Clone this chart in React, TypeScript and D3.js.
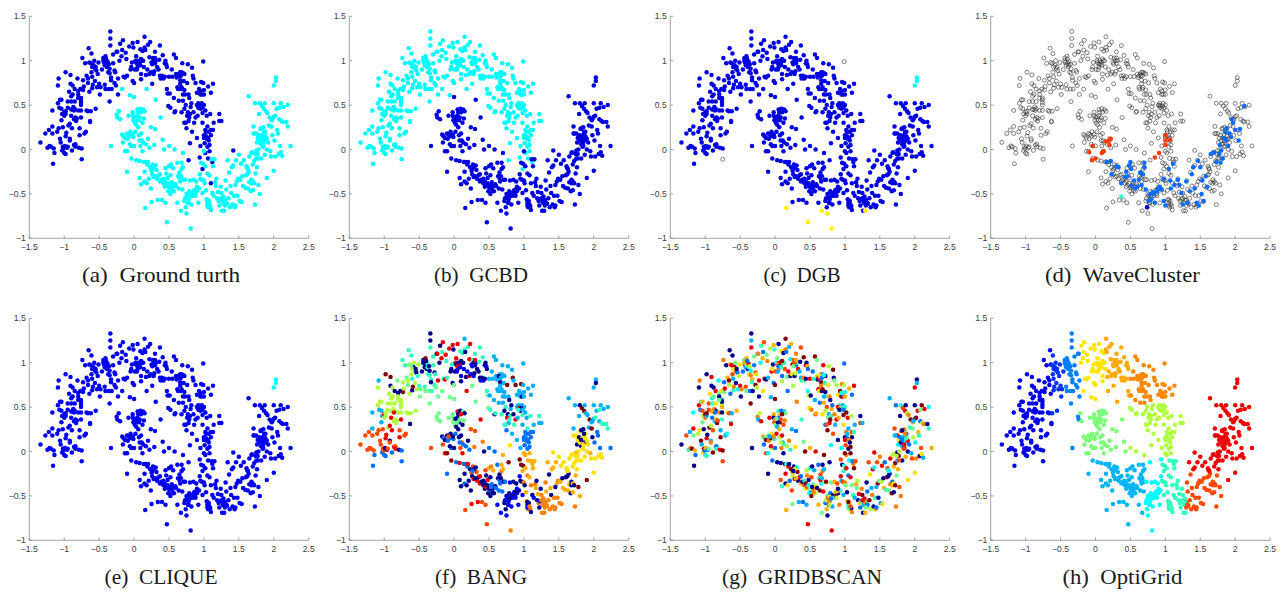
import React from "react";
import * as d3 from "d3";

type P = [number, number];

const upperMoon: P[] = [
[-1.34,0.08],[-1.27,0.18],[-1.22,0.22],[-1.24,0.02],[-1.21,0.04],[-1.19,0.03],[-1.17,0.18],[-1.17,0.26],[-1.16,-0.16],[-1.15,0.01],[-1.14,-0.04],[-1.17,0.44],[-1.1,0.2],[-1.08,0.24],[-1.09,0.52],[-1.09,0.72],[-1.08,0.8],[-1.07,0.47],[-1.06,0.56],[-1.06,0.12],[-1.05,0.08],[-1.04,0.46],[-1.04,0.56],[-1.04,0.33],[-1.03,0.4],[-1.02,0.25],[-1.02,0.03],[-1.03,-0.01],[-1.01,0.01],[-1,-0.04],[-1,0.38],[-1,0.42],[-0.98,0.87],[-0.98,0.4],[-0.98,0.15],[-0.99,0.04],[-0.98,-0.05],[-0.97,0.19],[-0.96,0.02],
[-0.95,0.03],[-0.95,0.54],[-0.94,0.27],[-0.93,0.65],[-0.92,0.29],[-0.92,0.12],[-0.92,0.1],[-0.91,0.84],[-0.91,0.74],[-0.9,0.6],[-0.9,0.54],[-0.9,0.45],[-0.9,0.38],[-0.89,0.24],[-0.89,-0.01],[-0.88,0.72],[-0.88,0.62],[-0.87,0.48],[-0.86,0.34],[-0.86,0.05],[-0.85,0.68],[-0.85,0.54],[-0.85,0.46],[-0.84,0.36],[-0.84,0.06],[-0.84,0.03],[-0.83,0.32],[-0.82,0.35],[-0.81,0.8],[-0.8,0.66],[-0.8,0.62],[-0.8,0.44],[-0.79,0.02],[-0.78,0.24],[-0.78,0.16],[-0.77,0.68],[-0.76,0.58],[-0.76,0.53],[-0.76,0.5],[-0.76,0.44],[-0.76,0.36],[-0.75,-0.11],[-0.75,0.01],[-0.74,1.03],[-0.73,0.78],[-0.73,0.67],[-0.72,0.71],[-0.71,0.18],[-0.7,0.97],[-0.69,0.2],[-0.68,0.83],[-0.68,0.44],[-0.66,0.8],[-0.66,0.75],[-0.66,0.43],[-0.65,1.14],[-0.64,0.65],[-0.64,0.98],
[-0.63,0.32],[-0.63,0.31],[-0.62,0.43],[-0.61,1.08],[-0.61,0.87],[-0.6,0.82],[-0.6,0.69],[-0.59,0.73],[-0.58,0.95],[-0.57,1],[-0.56,0.91],[-0.56,0.77],[-0.55,0.46],[-0.54,0.89],[-0.53,0.7],[-0.52,0.85],[-0.51,0.98],[-0.5,0.74],[-0.49,0.62],[-0.48,0.7],[-0.46,0.9],[-0.44,1.03],[-0.43,0.98],[-0.42,0.95],[-0.42,0.73],[-0.41,1.05],[-0.41,0.68],[-0.4,0.97],[-0.39,0.93],[-0.38,0.99],[-0.37,0.87],[-0.36,0.68],[-0.35,0.91],[-0.35,0.86],[-0.35,0.54],[-0.34,1.33],[-0.34,1.25],[-0.34,1.17],[-0.33,0.81],[-0.33,0.78],[-0.32,0.68],[-0.3,0.97],[-0.3,1.07],[-0.28,0.89],[-0.28,0.75],[-0.27,0.87],[-0.26,0.72],[-0.25,1.1],[-0.24,1.1],[-0.23,0.8],[-0.23,0.62],[-0.21,1],[-0.2,1.19],
[-0.18,1.05],[-0.17,1.12],[-0.16,1.23],[-0.15,0.82],[-0.13,0.81],[-0.12,1.09],[-0.11,1.02],[-0.1,0.83],[-0.07,1.16],[-0.05,0.9],[-0.04,0.93],[-0.03,0.98],[-0.02,1.2],[-0.02,0.77],[-0.01,1.15],[0,0.75],[0.01,0.9],[0.02,1],[0.03,1.05],[0.05,1.21],[0.05,0.93],[0.06,1],[0.07,0.96],[0.08,0.98],[0.09,1.13],[0.1,0.85],[0.1,0.79],[0.11,1],[0.12,1.11],[0.13,1],[0.14,0.93],[0.15,1.27],[0.15,1.15],[0.16,1.12],[0.17,0.84],[0.19,0.9],[0.2,1.18],[0.22,0.85],[0.22,1.04],[0.23,1.21],[0.24,0.87],[0.25,0.98],[0.26,0.74],[0.27,1.03],[0.28,0.85],[0.3,0.97],[0.3,1.1],[0.31,1],[0.33,0.93],[0.35,0.9],
[0.36,1.01],[0.37,1.17],[0.37,0.83],[0.38,0.8],[0.4,0.83],[0.41,1.06],[0.42,0.8],[0.44,0.97],[0.45,1],[0.46,0.96],[0.47,0.93],[0.47,0.68],[0.48,0.63],[0.49,0.49],[0.5,0.82],[0.51,0.63],[0.52,0.47],[0.54,0.9],[0.55,0.82],[0.57,1.07],[0.57,0.58],[0.58,0.42],[0.59,0.43],[0.6,1.03],[0.6,0.85],[0.61,0.81],[0.62,0.7],[0.63,0.68],[0.64,0.55],[0.65,0.83],[0.66,0.87],[0.66,0.78],[0.67,0.68],[0.68,0.87],[0.69,0.97],[0.7,0.55],
[0.71,0.77],[0.72,0.85],[0.72,0.3],[0.73,0.62],[0.74,0.5],[0.75,0.24],[0.76,0.75],[0.77,0.96],[0.77,0.42],[0.78,0.62],[0.78,0.32],[0.79,0.58],[0.8,0.07],[0.8,0.4],[0.81,0.48],[0.82,0.52],[0.83,0.2],[0.83,0.92],[0.84,0.83],[0.85,0.8],[0.85,0.42],[0.86,0.3],[0.88,0.75],[0.88,0.36],[0.9,0.64],[0.9,0.13],[0.91,0.38],[0.91,0.5],[0.92,0.52],[0.93,0.68],[0.94,-0.09],[0.95,0.04],[0.95,0.46],[0.95,0.62],[0.96,0.76],[0.97,0.62],[0.97,0.52],[0.98,0.41],[0.98,0.3],[0.99,0.99],[0.99,0.75],[1,0.62],[1,0.16],[1,0.5],[1.01,0.07],[1.02,0.44],[1.02,0.22],[1.03,0.15],[1.04,0.12],[1.04,0.38],[1.05,0.26],[1.05,0.03],[1.06,-0.1],[1.06,0.71],[1.07,0.2],[1.08,0.05],[1.09,0.4],[1.1,0.22],[1.1,0.16],[1.1,0.64],[1.12,-0.14],[1.13,0.22],[1.13,0.74],[1.14,0.3],[1.22,0.4],[1.22,0.32],[1.25,0.32],[0.98,-0.22],[1.02,-0.04],[1.08,-0.02],[1.1,-0.38],[1.42,-0.01],[0.78,-0.12],
[-0.44,1],[-0.4,1.02],[-0.38,0.95],[-0.36,0.96],[-0.6,0.93],[-0.62,0.97],[-0.55,0.93],[0.03,0.98],[0.05,0.96],[0.09,0.95],[0.1,1.02],[0.04,0.9],[0.28,1],[0.3,1.03],[0.26,0.96],[0.29,0.88],[0.44,0.82],[0.62,0.83],[0.64,0.85],[0.67,0.83],[0.7,0.86],[0.66,0.74],[0.68,0.7],[0.72,0.67],[0.7,0.62],[0.9,0.5],[0.93,0.49],[0.96,0.49],[0.92,0.47],[0.98,0.47],[0.76,0.38],[0.74,0.3],[0.79,0.36],[0.68,0.42],[0.72,0.46],[1.03,0.2],[1.06,0.13],[1,0.13],[1.07,0.1],[0.95,0.66],[1,0.67],[-0.88,0.45],[-0.86,0.44],[-0.95,0.47],[-0.98,0.43],[-0.76,0.56],[-0.8,0.58],
];

const lowerMoon: P[] = [
[-0.25,0.39],[-0.24,0.36],[-0.22,0.43],[-0.2,0.34],[-0.17,0.68],[-0.33,0.04],[-0.17,0.17],[-0.16,0.08],[-0.15,0.15],[-0.13,0.13],[-0.13,-0.02],[-0.1,-0.02],[-0.1,0.18],[-0.1,-0.25],[-0.09,0.12],[-0.08,0.38],[-0.06,0.61],[-0.06,0.15],[-0.05,0.2],[-0.04,-0.1],[-0.04,0.04],[-0.02,0.42],[-0.02,0.38],[-0.01,0.14],[-0.01,0.33],[0,0.59],[0,0.36],[0,0.04],[0.01,0.3],[0.02,0.2],[0.03,0.28],[0.03,-0.12],[0.05,0.45],[0.06,0.25],[0.06,0.42],[0.07,0.33],[0.07,0.16],[0.08,-0.32],[0.08,-0.13],[0.09,0.46],[0.09,0.04],[0.1,-0.39],[0.1,0.18],[0.11,0.1],[0.12,-0.02],[0.12,0.3],[0.13,0.45],[0.13,0.08],[0.14,0.35],[0.14,-0.14],[0.15,0.43],[0.15,-0.25],[0.15,-0.36],[0.16,-0.66],[0.18,0.68],
[0.16,-0.14],[0.17,0.06],[0.18,-0.38],[0.19,-0.17],[0.2,-0.14],[0.2,0.12],[0.21,-0.33],[0.22,0.02],[0.23,-0.2],[0.24,0.25],[0.24,-0.44],[0.25,-0.24],[0.25,-0.59],[0.26,-0.28],[0.27,-0.17],[0.28,-0.31],[0.29,0.05],[0.3,0.23],[0.31,-0.18],[0.31,0.56],[0.32,-0.23],[0.33,-0.33],[0.34,-0.57],[0.35,-0.29],[0.37,-0.36],[0.38,0.36],[0.39,-0.34],[0.4,-0.57],[0.41,0.11],[0.42,-0.38],[0.43,0],[0.44,-0.42],[0.45,-0.21],[0.45,-0.6],[0.46,-0.27],[0.47,-0.82],[0.48,-0.32],[0.49,-0.47],[0.5,-0.19],[0.5,0.04],[0.51,-0.43],[0.52,-0.29],[0.52,-0.5],[0.53,-0.17],[0.54,-0.37],[0.55,-0.42],[0.56,-0.21],[0.57,-0.47],[0.58,0],[0.59,-0.39],[0.6,-0.41],[0.62,-0.6],[0.62,-0.15],[0.63,-0.3],[0.64,-0.44],[0.65,-0.26],[0.66,-0.36],[0.67,-0.69],[0.68,-0.15],[0.68,-0.22],[0.69,-0.45],[0.7,-0.2],[0.7,-0.04],[0.71,-0.34],[0.72,-0.58],[0.73,-0.55],[0.74,-0.65],[0.75,-0.72],[0.75,-0.5],[0.76,-0.52],[0.77,-0.6],[0.78,-0.56],[0.79,-0.47],[0.8,-0.35],[0.81,-0.89],[0.82,-0.62],[0.83,-0.49],[0.84,-0.52],[0.85,-0.34],[0.86,-0.46],[0.87,-0.5],[0.88,-0.52],[0.89,-0.36],[0.9,-0.47],[0.91,-0.44],[0.92,-0.6],[0.93,-0.44],[0.94,-0.28],[0.95,-0.33],[0.96,-0.15],[0.97,-0.34],[0.98,-0.49],[0.99,-0.16],[1,-0.35],[1,-0.02],[1.01,-0.38],[1.02,-0.19],[1.03,-0.46],[1.04,-0.56],[1.05,-0.27],[1.05,-0.6],[1.06,-0.65],[1.07,-0.58],[1.08,-0.29],[1.09,-0.64],[1.1,-0.68],[1.11,-0.11],[1.12,-0.49],[1.13,-0.19],[1.14,-0.52],[1.15,-0.11],[1.16,-0.37],[1.17,-0.41],[1.18,-0.33],[1.19,-0.55],[1.2,-0.48],[1.21,-0.58],[1.22,-0.63],[1.23,-0.56],[1.24,-0.42],[1.25,-0.49],[1.26,-0.69],[1.27,-0.6],[1.28,-0.53],[1.29,-0.69],[1.3,-0.57],[1.31,-0.35],[1.32,-0.45],[1.33,-0.61],[1.34,-0.12],[1.35,-0.55],[1.36,-0.26],[1.37,-0.65],[1.38,-0.41],[1.39,-0.49],[1.4,-0.2],[1.41,-0.62],[1.42,-0.18],[1.43,-0.52],[1.44,-0.65],[1.45,-0.63],[1.46,-0.12],[1.47,-0.36],[1.48,-0.52],[1.49,-0.33],[1.5,-0.06],[1.51,-0.58],[1.52,-0.34],[1.53,-0.16],[1.54,-0.59],[1.55,-0.3],[1.56,-0.41],[1.57,-0.12],[1.59,-0.43],[1.6,-0.29],[1.61,-0.19],[1.62,-0.21],[1.63,-0.44],[1.64,-0.25],[1.65,-0.37],[1.65,-0.08],[1.64,0.6],[1.67,-0.47],[1.68,-0.04],[1.68,-0.34],[1.69,-0.03],[1.7,-0.17],[1.7,-0.46],[1.71,0.18],[1.71,0.26],[1.72,-0.13],[1.73,-0.62],[1.73,0.52],[1.74,-0.27],[1.75,0.18],[1.75,-0.1],[1.75,-0.01],[1.76,0.08],
[1.76,-0.2],[1.77,0.13],[1.77,-0.05],[1.78,0],[1.78,-0.4],[1.79,0.4],[1.79,0.16],[1.8,-0.5],[1.8,0.52],[1.81,0.23],[1.82,0.06],[1.82,-0.1],[1.83,0.49],[1.84,0.16],[1.84,0.1],[1.85,0.25],[1.85,0.04],[1.86,0.12],[1.86,0.46],[1.87,0.52],[1.87,-0.06],[1.88,0.2],[1.88,0.11],[1.89,0.43],[1.9,-0.32],[1.9,0.12],[1.9,0],[1.91,0.41],[1.92,0.08],[1.93,0.27],[1.94,0.36],[1.95,-0.02],[1.96,-0.08],[1.97,0.33],[1.97,0.26],[1.98,0.16],[2,0.52],[2,0.72],[2,-0.24],[2,0.37],[2.01,0.1],[2.02,-0.08],[2.02,0.38],[2.03,0.81],[2.03,0.77],[2.04,0.46],[2.05,0.22],[2.06,0.18],[2.07,-0.05],[2.08,0.34],[2.08,0.47],[2.09,0.04],[2.1,0.52],[2.1,-0.03],[2.11,0.32],[2.12,-0.07],[2.13,0.31],[2.14,0.48],[2.18,0.31],[2.2,0.5],[2.2,0.26],[2.24,0.04],
[0.05,0.38],[0.08,0.36],[0.1,0.42],[0.04,0.33],[0.02,0.37],[-0.02,0.17],[-0.08,0.17],[0.08,0.1],[-0.06,0.06],[0.28,-0.2],[0.26,-0.22],[0.3,-0.3],[0.37,-0.28],[0.42,-0.33],[0.44,-0.36],[0.46,-0.4],[0.48,-0.38],[0.5,-0.42],[0.53,-0.4],[0.55,-0.46],[0.65,-0.32],[0.67,-0.3],[0.73,-0.34],[0.78,-0.51],[0.8,-0.53],[0.78,-0.6],[0.88,-0.45],[0.9,-0.42],[1.05,-0.63],[1.08,-0.62],[1.05,-0.57],[1.28,-0.57],[1.32,-0.6],[1.3,-0.63],[1.25,-0.55],[1.45,-0.4],[1.62,-0.28],[1.63,-0.22],[1.68,-0.38],[1.7,-0.36],[1.72,-0.38],[1.74,-0.05],[1.77,-0.1],[1.8,0.1],[1.82,0.13],[1.86,0.2],[1.88,0.15],[1.85,0.08],[1.72,0.18],[1.82,0.24],[1.84,0.03],[1.98,0.34],
];

const xTicks = [-1.5, -1, -0.5, 0, 0.5, 1, 1.5, 2, 2.5];
const yTicks = [-1, -0.5, 0, 0.5, 1, 1.5];
const captions = ["(a)\u2002Ground turth", "(b)\u2002GCBD", "(c)\u2002DGB", "(d)\u2002WaveCluster", "(e)\u2002CLIQUE", "(f)\u2002BANG", "(g)\u2002GRIDBSCAN", "(h)\u2002OptiGrid"];
const captionWidths = [158, 94, 77, 155, 113, 92, 160, 120];

const dgbYellow: P[] = [[0.16,-0.66],[0.47,-0.82],[0.67,-0.69],[0.75,-0.72],[0.81,-0.89],[1.29,-0.69]];
const smallCyan: P[] = [[2,0.72],[2.03,0.77],[2.03,0.81]];
const dgbHollow: P[] = [[0.99,0.99],[-0.75,-0.11]];
const gcbdCyanExtra: P[] = [[-0.17,0.68],[0.18,0.68],[-0.06,0.61]];
const gcbdDarkExtra: P[] = [[1.1,-0.38],[1.42,-0.01]];

const waveBlue: P[] = [[0.16,-0.14],[0.22,-0.13],[0.23,-0.28],[0.3,-0.19],[0.33,-0.2],[0.37,-0.38],[0.42,-0.31],[0.44,-0.25],[0.46,-0.3],[0.48,-0.18],[0.5,-0.14],[0.51,-0.22],[0.52,-0.41],[0.55,-0.35],[0.57,-0.44],[0.6,-0.42],[0.62,-0.34],[0.64,-0.26],[0.66,-0.4],[0.68,-0.28],[0.7,-0.15],[0.7,-0.2],[0.72,-0.45],[0.76,-0.58],[0.78,-0.5],[0.8,-0.56],[0.82,-0.48],[0.84,-0.5],[0.85,-0.6],[0.88,-0.47],[0.9,-0.44],[0.92,-0.42],[0.95,-0.45],[0.98,-0.33],[0.98,-0.58],[1,-0.63],[1.05,-0.22],[1.07,-0.35],[1.08,-0.44],[1.11,-0.16],[1.13,-0.4],[1.18,-0.34],[1.2,-0.4],[1.23,-0.49],[1.25,-0.62],[1.3,-0.36],[1.32,-0.6],[1.35,-0.47],[1.38,-0.28],[1.4,-0.2],[1.42,-0.44],[1.45,-0.6],[1.47,-0.13],[1.48,-0.63],[1.5,-0.2],[1.52,-0.5],[1.53,-0.35],[1.55,-0.58],[1.58,-0.3],[1.6,-0.42],[1.65,-0.05],[1.7,-0.03],[1.73,-0.14],[1.77,-0.05],[1.78,0.05],[1.79,-0.15],[1.8,-0.01],[1.82,-0.1],[1.84,0.13],[1.86,0.2],[1.87,0.1],[1.88,0.24],[1.9,0.04],[1.92,0.18],[1.94,0.14],[1.95,0.34],[1.97,0.3],[2,0.22],[2.05,0.1],[2.07,0.23],[2.13,0.49]];
const waveRed: P[] = [[-0.09,-0.03],[-0.04,0.04],[-0.05,-0.12],[0,-0.1],[0.09,-0.04],[0.11,-0.02],[0.15,0.09],[0.2,0.05],[0.2,0.1],[0.22,0.12],[1,0.16],[1,0.1],[1,0.05],[1.07,0.11],[0.91,-0.04],[0.85,-0.09]];
const waveTeal: P[] = [[0.37,-0.53]];
const waveNavy: P[] = [[0.74,-0.65]];

const jet: Record<string, string> = { n: "#00008f", b: "#0000ff", B: "#0070ff", s: "#00b0ff", c: "#00ffff", t: "#30ffc0", g: "#70ff8f", l: "#b0ff40", y: "#ffe000", a: "#ffb000", o: "#ff8000", r: "#ff4a00", R: "#e80000", d: "#800000" };

// BANG labels per block of 0.25 x 0.25, top row first, x from -1.5 upward
const bangBlocks = [
"s s s s n s s s s s s s s s s s",
"s s s dtn nRdnt RtRRn RRtn ttRd ss Rss s s s s s s",
"s s dg nltlg nntt ntRn bnRbn nnb sssn ssds ss s s s nss s",
"s l lln llgnd gttg gRg Rg gt ss ssdn ss s s nss ss s",
"s s lllR lln gl g nngRg gRg tn ntsR ts s s sd st s",
"r r rRn rB r rBn rBn ro Bs sBy B a y nyyn BB B",
"B B BBdB B B Rd BRn nBr aaoB aad aa ay y yya y y",
"B B B B B B Bn Rnn nB bn oan oan an Bd a a",
"r r r r r r r rR bn bn nbo o o a a a",
"r r r r r r r r r o o o o o o o",
].map((row) => row.split(" "));

const gridBscanLabels = "nrstodgRnaBclyRnoBtdsraglnRyBcodnsRatnBgrdylsoRnctaBrdngoslRynaBtdrcgnoRsdyBlantrdoBgRsncaydlrnBotRs";

// OptiGrid rectangles: xmin, xmax, ymin, ymax, colour; the first that holds the point wins
const optiRegions: [number, number, number, number, string][] = [
  [-2, -0.62, -2, 2, "#0000e6"],
  [-0.62, -0.45, -2, 2, "#0030ff"],
  [-0.45, -0.22, -2, 2, "#0080ff"],
  [1.3, 1.9, -2, -0.22, "#ff4a00"],
  [1.3, 3, -2, 3, "#f00000"],
  [-0.22, 0.15, 0.55, 2, "#ffe600"],
  [0.15, 0.5, 0.55, 2, "#ffaa00"],
  [0.5, 1.3, 0.55, 2, "#ff8800"],
  [-0.22, 0.45, -0.05, 0.55, "#7dff7a"],
  [0.45, 1.3, -0.05, 0.55, "#b0ff40"],
  [-0.22, 0.72, -2, -0.05, "#00b4ff"],
  [0.72, 0.95, -2, -0.05, "#00ffff"],
  [0.95, 1.3, -2, -0.05, "#30ffc0"],
];

const panelX = [29.3, 349.3, 670.3, 990.7];
const panelW = 279.4;
const panelYTop = [16.3, 318.3];
const panelH = 222;
const captionBaseline = [281.5, 583.5];

const key = (p: P) => p[0] + "," + p[1];
const keySet = (a: P[]) => new Set(a.map(key));
const yellowSet = keySet(dgbYellow), cyanSet = keySet(smallCyan), hollowSet = keySet(dgbHollow);
const gcCyan = keySet(gcbdCyanExtra), gcDark = keySet(gcbdDarkExtra);
const upperSet = keySet(upperMoon);
const allPoints: P[] = [...upperMoon, ...lowerMoon];

const DARK = "#0000dc";
const CY = "#00ffff";

function colourFor(panel: number, p: P, i: number): string | null {
  const k = key(p);
  switch (panel) {
    case 0: return upperSet.has(k) ? DARK : CY;
    case 1:
      if (gcCyan.has(k)) return CY;
      if (gcDark.has(k)) return DARK;
      return upperSet.has(k) ? CY : DARK;
    case 2:
      if (yellowSet.has(k)) return "#ffee00";
      if (cyanSet.has(k)) return CY;
      if (hollowSet.has(k)) return null;
      return "#0000e0";
    case 4: return cyanSet.has(k) ? CY : "#0000ee";
    case 5: {
      const col = Math.min(15, Math.floor((p[0] + 1.5) / 0.25));
      const row = Math.min(9, Math.floor((1.5 - p[1]) / 0.25));
      const cell = bangBlocks[row][col] || "s";
      return jet[cell[i % cell.length]];
    }
    case 6: return jet[gridBscanLabels[i % gridBscanLabels.length]];
    case 7: {
      const r = optiRegions.find((q) => p[0] >= q[0] && p[0] < q[1] && p[1] >= q[2] && p[1] < q[3]);
      return r ? r[4] : "#0000e6";
    }
    default: return null;
  }
}

function Panel({ index }: { index: number }) {
  const left = panelX[index % 4];
  const top = panelYTop[index < 4 ? 0 : 1];
  const x = d3.scaleLinear().domain([-1.5, 2.5]).range([left, left + panelW]);
  const y = d3.scaleLinear().domain([-1, 1.5]).range([top + panelH, top]);
  const fmt = (v: number) => String(v).replace("-", "\u2212");
  const R = 2.25;
  const hollow = index === 3;
  return (
    <g>
      <g filter="url(#soft)">
        <g stroke="#8a8a8a" strokeWidth={0.8} fill="none">
          <line x1={x(-1.5)} x2={x(2.5)} y1={y(-1)} y2={y(-1)} />
          <line x1={x(-1.5)} x2={x(-1.5)} y1={y(-1)} y2={y(1.5)} />
          {xTicks.map((t) => <line key={t} x1={x(t)} x2={x(t)} y1={y(-1)} y2={y(-1) - 2.8} />)}
          {yTicks.map((t) => <line key={t} x1={x(-1.5)} x2={x(-1.5) + 2.8} y1={y(t)} y2={y(t)} />)}
        </g>
        {hollow
          ? allPoints.map((p, i) => <circle key={i} cx={x(p[0])} cy={y(p[1])} r={2} fill="none" stroke="#333" strokeWidth={0.6} />)
          : allPoints.map((p, i) => {
              const c = colourFor(index, p, i);
              return c
                ? <circle key={i} cx={x(p[0])} cy={y(p[1])} r={R} fill={c} />
                : <circle key={i} cx={x(p[0])} cy={y(p[1])} r={2} fill="none" stroke="#333" strokeWidth={0.6} />;
            })}
        {hollow && (
          <>
            {waveBlue.map((p, i) => <circle key={"b" + i} cx={x(p[0])} cy={y(p[1])} r={R} fill="#0a6cff" />)}
            {waveRed.map((p, i) => <circle key={"r" + i} cx={x(p[0])} cy={y(p[1])} r={R} fill="#ff3a00" />)}
            {waveTeal.map((p, i) => <circle key={"t" + i} cx={x(p[0])} cy={y(p[1])} r={R} fill="#30ffc8" />)}
            {waveNavy.map((p, i) => <circle key={"n" + i} cx={x(p[0])} cy={y(p[1])} r={R} fill="#0000d0" />)}
          </>
        )}
      </g>
      <g fontFamily="'Liberation Sans', Arial, sans-serif" fontSize={8.6} fill="#404040">
        {xTicks.map((t) => <text key={t} x={x(t)} y={y(-1) + 11.5} textAnchor="middle">{fmt(t)}</text>)}
        {yTicks.map((t) => <text key={t} x={x(-1.5) - 3.5} y={y(t) + 3} textAnchor="end">{fmt(t)}</text>)}
      </g>
      <text x={left + panelW / 2 - 8} y={captionBaseline[index < 4 ? 0 : 1]} textAnchor="middle"
        fontFamily="'Liberation Serif', serif" fontSize={22} fill="#1a1a1a"
        textLength={captionWidths[index]} lengthAdjust="spacingAndGlyphs">{captions[index]}</text>
    </g>
  );
}

export default function App() {
  return (
    <svg width={1282} height={592} viewBox="0 0 1282 592"
      style={{ position: "absolute", left: 0, top: 0, display: "block", background: "#fff" }}>
      <defs>
        <filter id="soft" x="-5%" y="-5%" width="110%" height="110%">
          <feGaussianBlur stdDeviation={0.35} />
        </filter>
      </defs>
      {captions.map((_, i) => <Panel key={i} index={i} />)}
    </svg>
  );
}
